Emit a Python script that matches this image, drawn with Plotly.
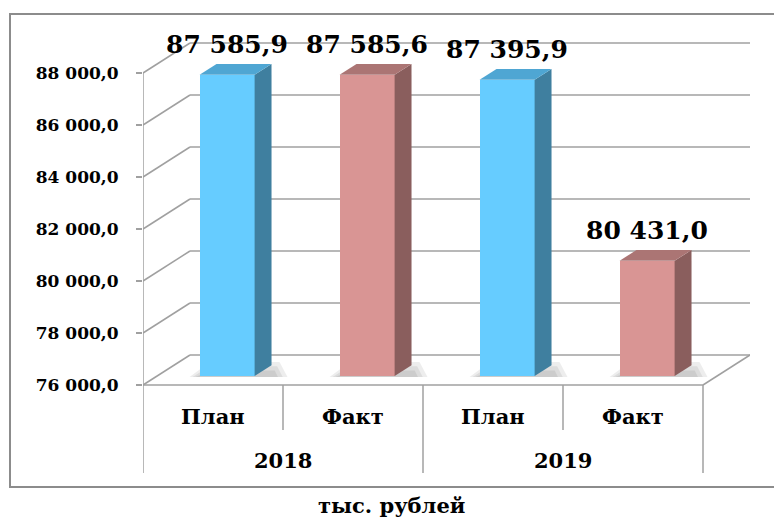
import plotly.graph_objects as go

# ---------------- data ----------------
kinds = ["План", "Факт", "План", "Факт"]
bar_years = ["2018", "2018", "2019", "2019"]
years = ["2018", "2019"]
values = [87585.9, 87585.6, 87395.9, 80431.0]
y_ticks = [76000, 78000, 80000, 82000, 84000, 86000, 88000]
caption = "тыс. рублей"

front_colors = {"План": "#66CCFF", "Факт": "#D99594"}
top_colors = {"План": "#4FA6D3", "Факт": "#AB7574"}
side_colors = {"План": "#3F7F9F", "Факт": "#8A5E5D"}

# ---------------- geometry ----------------
W, H = 782, 520
OFF = 8  # page body margin offset
PLOT_L, PLOT_T, PLOT_B = 143 - OFF, 20 - OFF, 480 - OFF
PX_PER_CAT = 140.0
PX_PER_VAL = 0.026
FLOOR_PX = 385 - OFF
DX = 47 / PX_PER_CAT              # depth offset (x units)
DY = 30 / PX_PER_VAL              # depth offset (value units)
Z0, DEPTH, BW = 0.3, 0.36, 0.393  # bar depth position, bar depth, bar width

ymin, ymax = y_ticks[0], y_ticks[-1]
n = len(kinds)
xr = [-0.5, n - 0.5 + DX]
plot_w = PX_PER_CAT * (xr[1] - xr[0])
PLOT_R = PLOT_L + plot_w
yr = [ymin - (PLOT_B - FLOOR_PX) / PX_PER_VAL, ymin + (FLOOR_PX - PLOT_T) / PX_PER_VAL]


def val_at_px(py):
    return ymin + (FLOOR_PX - (py - OFF)) / PX_PER_VAL


def px_to_paper_x(px):
    return (px - OFF - PLOT_L) / plot_w


def px_to_paper_y(py):
    return (PLOT_B - (py - OFF)) / (PLOT_B - PLOT_T)


def fmt(v):
    return f"{v:,.1f}".replace(",", " ").replace(".", ",")


GRID = "#A0A0A0"
FONT = "DejaVu Serif"

fig = go.Figure()
shapes = []

# back wall + side wall gridlines
for t in y_ticks:
    shapes.append(dict(type="line", xref="x", yref="y", x0=-0.5 + DX, y0=t + DY,
                       x1=n - 0.5 + DX, y1=t + DY, line=dict(color=GRID, width=1.5), layer="below"))
    shapes.append(dict(type="line", xref="x", yref="y", x0=-0.5, y0=t,
                       x1=-0.5 + DX, y1=t + DY, line=dict(color=GRID, width=1.5), layer="below"))
# floor front edge and right edge
shapes.append(dict(type="line", xref="x", yref="y", x0=-0.5, y0=ymin, x1=n - 0.5, y1=ymin,
                   line=dict(color=GRID, width=1.5), layer="below"))
shapes.append(dict(type="line", xref="x", yref="y", x0=n - 0.5, y0=ymin, x1=n - 0.5 + DX, y1=ymin + DY,
                   line=dict(color=GRID, width=1.5), layer="below"))
# front value axis line + category table
table_bottom = val_at_px(473)
inner_bottom = val_at_px(430)
shapes.append(dict(type="line", xref="x", yref="y", x0=-0.5, y0=ymax, x1=-0.5, y1=table_bottom,
                   line=dict(color=GRID, width=1.5), layer="below"))
for i in range(1, n + 1):
    xb = i - 0.5
    yb = table_bottom if (i % 2 == 0) else inner_bottom
    shapes.append(dict(type="line", xref="x", yref="y", x0=xb, y0=ymin, x1=xb, y1=yb,
                       line=dict(color=GRID, width=1.5), layer="below"))
# outer frame
shapes.append(dict(type="rect", xref="paper", yref="paper",
                   x0=px_to_paper_x(10), x1=px_to_paper_x(781),
                   y0=px_to_paper_y(487), y1=px_to_paper_y(14),
                   line=dict(color="#8C8C8C", width=2), layer="below"))

xc = [i + Z0 * DX for i in range(n)]
base = ymin + Z0 * DY
ddx, ddy = DEPTH * DX, DEPTH * DY

# soft floor shadows (layered for a blur look), beneath the bars
for i in range(n):
    xl, xrr = xc[i] - BW / 2, xc[i] + BW / 2
    for s in (1.0, 0.7, 0.4):
        pts = [(xl - s * 10 / PX_PER_CAT, base - 1 / PX_PER_VAL),
               (xrr + ddx + s * 16 / PX_PER_CAT, base - 1 / PX_PER_VAL),
               (xrr + ddx + s * 8 / PX_PER_CAT, base + s * 14 / PX_PER_VAL),
               (xl + ddx * 0.6, base + s * 14 / PX_PER_VAL)]
        path = "M " + " L ".join(f"{px},{py}" for px, py in pts) + " Z"
        shapes.append(dict(type="path", xref="x", yref="y", path=path,
                           fillcolor="rgba(0,0,0,0.07)", line=dict(width=0), layer="below"))

# front faces
fig.add_trace(go.Bar(
    x=xc, y=[v - ymin for v in values], base=base, width=BW,
    marker=dict(color=[front_colors[k] for k in kinds], line=dict(width=0)),
    hoverinfo="skip", showlegend=False,
))

# side + top faces
for i, (k, v) in enumerate(zip(kinds, values)):
    xl, xrr = xc[i] - BW / 2, xc[i] + BW / 2
    top = v + Z0 * DY
    fig.add_trace(go.Scatter(
        x=[xrr, xrr, xrr + ddx, xrr + ddx, xrr],
        y=[base, top, top + ddy, base + ddy, base],
        fill="toself", fillcolor=side_colors[k], mode="lines",
        line=dict(width=0), hoverinfo="skip", showlegend=False))
    fig.add_trace(go.Scatter(
        x=[xl, xrr, xrr + ddx, xl + ddx, xl],
        y=[top, top, top + ddy, top + ddy, top],
        fill="toself", fillcolor=top_colors[k], mode="lines",
        line=dict(width=0), hoverinfo="skip", showlegend=False))
    fig.add_annotation(x=xc[i], y=top + ddy, xref="x", yref="y", text=fmt(v),
                       showarrow=False, yanchor="bottom", yshift=3,
                       font=dict(family=FONT, size=25, color="black", weight="bold"))

# category labels
for i, k in enumerate(kinds):
    fig.add_annotation(x=i, y=val_at_px(416), xref="x", yref="y", text=k, showarrow=False,
                       xanchor="center", yanchor="middle",
                       font=dict(family=FONT, size=21, color="black", weight="bold"))
for j, yv in enumerate(years):
    idx = [i for i, b in enumerate(bar_years) if b == yv]
    fig.add_annotation(x=sum(idx) / len(idx), y=val_at_px(460), xref="x", yref="y", text=yv,
                       showarrow=False, xanchor="center", yanchor="middle",
                       font=dict(family=FONT, size=21, color="black", weight="bold"))

fig.add_annotation(x=px_to_paper_x(391), y=px_to_paper_y(505), xref="paper", yref="paper",
                   text=caption, showarrow=False, xanchor="center", yanchor="middle",
                   font=dict(family=FONT, size=21, color="black", weight="bold"))

fig.update_layout(
    width=W, height=H,
    margin=dict(l=PLOT_L, r=W - PLOT_R, t=PLOT_T, b=H - PLOT_B),
    paper_bgcolor="white", plot_bgcolor="white",
    separators=", ",
    shapes=shapes,
    showlegend=False,
    bargap=0,
    xaxis=dict(range=xr, showgrid=False, zeroline=False, showticklabels=False,
               showline=False, ticks="", fixedrange=True),
    yaxis=dict(range=yr, tickvals=y_ticks, tickformat=",.1f", showgrid=False, zeroline=False,
               showline=False, ticks="outside", ticklen=6, tickcolor=GRID, tickwidth=1.5,
               ticklabelstandoff=14,
               tickfont=dict(family=FONT, size=17, color="black", weight="bold"), fixedrange=True),
)

fig.write_html("out.html")
